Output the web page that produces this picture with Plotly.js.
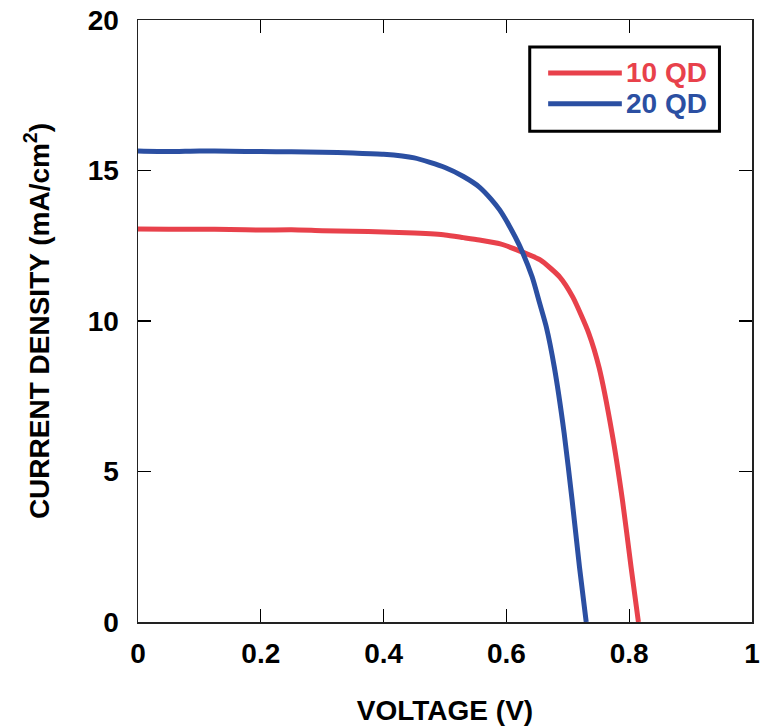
<!DOCTYPE html>
<html>
<head>
<meta charset="utf-8">
<script src="https://cdn.plot.ly/plotly-3.0.1.min.js"></script>
<style>html,body{margin:0;padding:0;background:#fff;}#chart{width:760px;height:726px;}</style>
</head>
<body>
<div id="chart"></div>
<script>
// Voltage (V) and current density (mA/cm^2)
const v10 = [0, 0.05, 0.1, 0.15, 0.2, 0.25, 0.3, 0.35, 0.4, 0.45, 0.5, 0.53, 0.556, 0.59, 0.626, 0.655, 0.687, 0.708, 0.734, 0.751, 0.772, 0.789, 0.803, 0.815];
const j10 = [13.06, 13.05, 13.05, 13.04, 13.02, 13.03, 13.0, 12.98, 12.96, 12.92, 12.86, 12.77, 12.69, 12.56, 12.29, 12.03, 11.46, 10.8, 9.6, 8.45, 6.28, 4.05, 1.83, 0];
const v20 = [0, 0.05, 0.1, 0.15, 0.2, 0.25, 0.3, 0.35, 0.4, 0.45, 0.5, 0.53, 0.556, 0.575, 0.589, 0.605, 0.621, 0.642, 0.654, 0.665, 0.678, 0.694, 0.707, 0.719, 0.73];
const j20 = [15.65, 15.63, 15.65, 15.64, 15.63, 15.62, 15.61, 15.58, 15.54, 15.42, 15.1, 14.8, 14.45, 14.05, 13.69, 13.15, 12.52, 11.46, 10.6, 9.8, 8.47, 6.28, 4.05, 1.83, 0];
const seriesNames = ["10 QD", "20 QD"];
const seriesColors = ["#E8414B", "#2B4FA2"];
const xTickVals = [0, 0.2, 0.4, 0.6, 0.8, 1];
const xTickText = ["0", "0.2", "0.4", "0.6", "0.8", "1"];
const yTickVals = [0, 5, 10, 15, 20];
const yTickText = ["0", "5", "10", "15", "20"];

const FONT = "Liberation Sans, Arial, sans-serif";

const traces = [
  {x: v10, y: j10, mode: "lines", name: seriesNames[0], line: {color: seriesColors[0], width: 5, shape: "spline", smoothing: 0.6}, showlegend: false},
  {x: v20, y: j20, mode: "lines", name: seriesNames[1], line: {color: seriesColors[1], width: 5, shape: "spline", smoothing: 0.6}, showlegend: false}
];

// manual legend (paper coords)
const lx0 = 0.638, lx1 = 0.947, ly0 = 0.815, ly1 = 0.955;
const rows = [0.912, 0.861];
const shapes = [
  {type: "rect", xref: "paper", yref: "paper", x0: lx0, x1: lx1, y0: ly0, y1: ly1, line: {color: "#000", width: 3}, fillcolor: "#fff", layer: "above"}
];
const annotations = [];
rows.forEach((ry, i) => {
  shapes.push({type: "line", xref: "paper", yref: "paper", x0: 0.668, x1: 0.788, y0: ry, y1: ry, line: {color: seriesColors[i], width: 5}, layer: "above"});
  annotations.push({xref: "paper", yref: "paper", x: 0.792, y: ry, xanchor: "left", yanchor: "middle", text: "<b>" + seriesNames[i] + "</b>", showarrow: false, font: {family: FONT, size: 28, color: seriesColors[i]}});
});

const layout = {
  width: 760, height: 726,
  margin: {l: 138, r: 8, t: 20, b: 104},
  paper_bgcolor: "#fff", plot_bgcolor: "#fff",
  font: {family: FONT, color: "#000"},
  xaxis: {
    range: [0, 1], tickvals: xTickVals, ticktext: xTickText,
    ticks: "inside", ticklen: 13, tickwidth: 1.2, tickcolor: "#000",
    showline: true, linecolor: "#222", linewidth: 1.5, mirror: "allticks",
    showgrid: false, zeroline: false,
    tickfont: {family: FONT, size: 28, color: "#000", weight: "bold"},
    ticklabelstandoff: 6,
    title: {text: "<b>VOLTAGE (V)</b>", font: {family: FONT, size: 28, color: "#000"}, standoff: 32}
  },
  yaxis: {
    range: [0, 20], tickvals: yTickVals, ticktext: yTickText,
    ticks: "inside", ticklen: 13, tickwidth: 1.2, tickcolor: "#000",
    showline: true, linecolor: "#222", linewidth: 1.5, mirror: "allticks",
    showgrid: false, zeroline: false,
    tickfont: {family: FONT, size: 28, color: "#000", weight: "bold"},
    ticklabelstandoff: 12,
    title: {text: "<b>CURRENT DENSITY (mA/cm<sup>2</sup>)</b>", font: {family: FONT, size: 28, color: "#000"}, standoff: 30}
  },
  shapes: shapes,
  annotations: annotations,
  showlegend: false
};

Plotly.newPlot("chart", traces, layout, {displayModeBar: false, staticPlot: true});
</script>
</body>
</html>
